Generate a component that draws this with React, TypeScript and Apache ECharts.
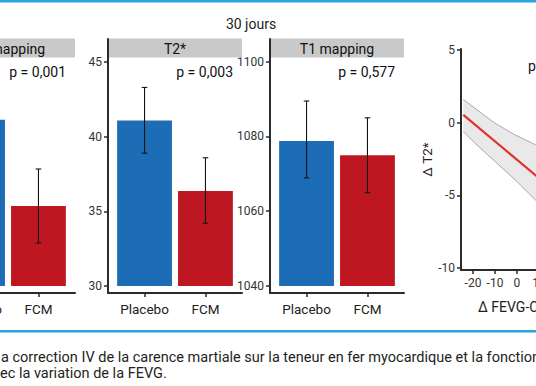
import React, { useEffect, useRef } from "react";
import * as echarts from "echarts";

// ---------- data ----------
const CATEGORIES = ["Placebo", "FCM"];
const GROUP_TITLE = "30 jours";
const PANEL_TITLES = ["T1 mapping", "T2*", "T1 mapping"];
const P_VALUES = ["p = 0,001", "p = 0,003", "p = 0,577"];

const PANEL1_MEAN = [1084.5, 1061.4];
const PANEL1_LOW = [1077.0, 1051.5];
const PANEL1_HIGH = [1092.0, 1071.3];

const PANEL2_MEAN = [41.07, 36.35];
const PANEL2_LOW = [38.89, 34.2];
const PANEL2_HIGH = [43.29, 38.58];

const PANEL3_MEAN = [1078.8, 1074.97];
const PANEL3_LOW = [1068.9, 1064.95];
const PANEL3_HIGH = [1089.5, 1085.0];

const PANEL1_TICKS = [1040, 1060, 1080, 1100];
const PANEL2_TICKS = [30, 35, 40, 45];
const PANEL3_TICKS = [1040, 1060, 1080, 1100];

const BAR_BASE = [1040, 30, 1040];
const Y_MIN = [1038.1, 29.53, 1038.1];
const Y_MAX = [1106.1, 46.53, 1106.1];

const SCATTER_X_TICKS = [-20, -10, 0, 10, 20, 30, 40];
const SCATTER_Y_TICKS = [-10, -5, 0, 5];
const FIT_X = [-24.4, 15];
const FIT_Y = [0.53, -4.45];
const BAND_X = [-24.4, -19.1, -10.0, -0.9, 8.6, 15];
const BAND_UPPER = [1.6, 0.99, -0.04, -0.84, -1.53, -2.0];
const BAND_LOWER = [-0.62, -1.41, -2.67, -3.92, -5.35, -6.2];

const SCATTER_Y_NAME = "Δ T2*";
const SCATTER_X_NAME = "Δ FEVG-CMR";
const SCATTER_P = "p";

const CAPTION_1 = "a correction IV de la carence martiale sur la teneur en fer myocardique et la fonction";
const CAPTION_2 = "ec la variation de la FEVG.";

// ---------- layout / style ----------
const OFF = 100;
const PANEL_LEFT = [41, 208, 370];
const PANEL_W = 134;
const GRID_TOP = 39;
const GRID_BOTTOM = 293;
const BLUE = "#1d6cb6";
const RED = "#bf1722";
const AXIS = "#2b2b2b";
const TICK_FONT = "Roboto, sans-serif";
const TEXT_FONT = "Roboto, 'Noto Sans', sans-serif";

const MEANS = [PANEL1_MEAN, PANEL2_MEAN, PANEL3_MEAN];
const LOWS = [PANEL1_LOW, PANEL2_LOW, PANEL3_LOW];
const HIGHS = [PANEL1_HIGH, PANEL2_HIGH, PANEL3_HIGH];
const TICKS = [PANEL1_TICKS, PANEL2_TICKS, PANEL3_TICKS];

function buildOption(): any {
  const grid: any[] = [];
  const xAxis: any[] = [];
  const yAxis: any[] = [];
  const series: any[] = [];
  const graphic: any[] = [];

  const axisLine = { show: true, onZero: false, lineStyle: { color: AXIS, width: 2 } };
  const tickLabel = { margin: 6, fontSize: 12, color: "#333", fontFamily: TICK_FONT, formatter: (v: number) => String(v) };

  for (let i = 0; i < 3; i++) {
    grid.push({
      left: PANEL_LEFT[i],
      top: GRID_TOP,
      width: PANEL_W,
      height: GRID_BOTTOM - GRID_TOP,
      containLabel: false,
      outerBoundsMode: "none",
    });
    xAxis.push({
      type: "value",
      gridIndex: i,
      min: 0.4,
      max: 2.6,
      axisLine,
      axisTick: { show: true, length: 4, customValues: [1, 2], lineStyle: { color: AXIS, width: 1.5 } },
      axisLabel: {
        customValues: [1, 2],
        formatter: (v: number) => CATEGORIES[Math.round(v) - 1] ?? "",
        margin: 9,
        fontSize: 13.5,
        color: "#222",
        fontFamily: TEXT_FONT,
      },
      splitLine: { show: false },
    });
    yAxis.push({
      type: "value",
      gridIndex: i,
      min: Y_MIN[i],
      max: Y_MAX[i],
      axisLine,
      axisTick: { show: true, length: 4, customValues: TICKS[i], lineStyle: { color: AXIS, width: 1.5 } },
      axisLabel: { ...tickLabel, customValues: TICKS[i] },
      splitLine: { show: false },
    });
    // bars (from the panel's base value up to the mean)
    series.push({
      type: "custom",
      xAxisIndex: i,
      yAxisIndex: i,
      z: 2,
      silent: true,
      encode: { x: 0, y: [1, 2] },
      data: CATEGORIES.map((_, k) => [k + 1, BAR_BASE[i], MEANS[i][k]]),
      renderItem: (params: any, api: any) => {
        const x = api.value(0);
        const w = api.size([0.9, 0])[0];
        const top = api.coord([x, api.value(2)]);
        const bot = api.coord([x, api.value(1)]);
        return {
          type: "rect",
          shape: { x: top[0] - w / 2, y: top[1], width: w, height: bot[1] - top[1] },
          style: { fill: params.dataIndex === 0 ? BLUE : RED },
        };
      },
    });
    // error bars
    series.push({
      type: "custom",
      xAxisIndex: i,
      yAxisIndex: i,
      z: 5,
      silent: true,
      encode: { x: 0, y: [1, 2] },
      data: CATEGORIES.map((_, k) => [k + 1, LOWS[i][k], HIGHS[i][k]]),
      renderItem: (params: any, api: any) => {
        const x = api.value(0);
        const lo = api.coord([x, api.value(1)]);
        const hi = api.coord([x, api.value(2)]);
        const cap = 2.8;
        const style = { stroke: "#151515", lineWidth: 1.1 };
        return {
          type: "group",
          children: [
            { type: "line", shape: { x1: lo[0], y1: lo[1], x2: hi[0], y2: hi[1] }, style },
            { type: "line", shape: { x1: lo[0] - cap, y1: lo[1], x2: lo[0] + cap, y2: lo[1] }, style },
            { type: "line", shape: { x1: hi[0] - cap, y1: hi[1], x2: hi[0] + cap, y2: hi[1] }, style },
          ],
        };
      },
    });

    // strip
    graphic.push({
      type: "rect",
      shape: { x: PANEL_LEFT[i] + 1, y: 38.5, width: PANEL_W - 1, height: 19 },
      style: { fill: "#c9c9c9" },
      z: 10,
    });
    graphic.push({
      type: "text",
      x: PANEL_LEFT[i] + PANEL_W / 2,
      y: 48.5,
      style: {
        text: PANEL_TITLES[i],
        fill: "#111",
        font: `14px ${TEXT_FONT}`,
        textAlign: "center",
        textVerticalAlign: "middle",
      },
      z: 11,
    });
    graphic.push({
      type: "text",
      x: PANEL_LEFT[i] + PANEL_W - 9,
      y: 72,
      style: {
        text: P_VALUES[i],
        fill: "#111",
        font: `14px ${TEXT_FONT}`,
        textAlign: "right",
        textVerticalAlign: "middle",
      },
      z: 11,
    });
  }

  // scatter / regression panel
  const SC_LEFT = 561;
  const SC_TOP = 49;
  const SC_BOTTOM = 270;
  grid.push({
    left: SC_LEFT,
    top: SC_TOP,
    width: 144,
    height: SC_BOTTOM - SC_TOP,
    containLabel: false,
    outerBoundsMode: "none",
  });
  xAxis.push({
    type: "value",
    gridIndex: 3,
    min: -25.45,
    max: 40,
    axisLine,
    axisTick: { show: true, length: 4, customValues: SCATTER_X_TICKS, lineStyle: { color: AXIS, width: 1.5 } },
    axisLabel: { ...tickLabel, customValues: SCATTER_X_TICKS, margin: 7 },
    splitLine: { show: false },
  });
  yAxis.push({
    type: "value",
    gridIndex: 3,
    min: -10.14,
    max: 5.07,
    axisLine,
    axisTick: { show: true, length: 4, customValues: SCATTER_Y_TICKS, lineStyle: { color: AXIS, width: 1.5 } },
    axisLabel: { ...tickLabel, customValues: SCATTER_Y_TICKS },
    splitLine: { show: false },
    name: SCATTER_Y_NAME,
    nameLocation: "middle",
    nameRotate: 90,
    nameGap: 23,
    nameTextStyle: { fontSize: 13.5, color: "#222", fontFamily: TEXT_FONT },
  });
  series.push({
    type: "custom",
    xAxisIndex: 3,
    yAxisIndex: 3,
    silent: true,
    z: 2,
    data: [[0]],
    renderItem: (params: any, api: any) => {
      const up = BAND_X.map((x, k) => api.coord([x, BAND_UPPER[k]]));
      const lo = BAND_X.map((x, k) => api.coord([x, BAND_LOWER[k]]));
      const poly = up.concat(lo.slice().reverse());
      return {
        type: "group",
        children: [
          { type: "polygon", shape: { points: poly }, style: { fill: "#e9e9e9", stroke: "none" } },
          { type: "polyline", shape: { points: up }, style: { stroke: "#a9a9a9", lineWidth: 1, fill: "none" } },
          { type: "polyline", shape: { points: lo }, style: { stroke: "#a9a9a9", lineWidth: 1, fill: "none" } },
        ],
      };
    },
  });
  series.push({
    type: "line",
    xAxisIndex: 3,
    yAxisIndex: 3,
    z: 4,
    silent: true,
    symbol: "none",
    lineStyle: { color: "#e0342b", width: 2.2 },
    data: FIT_X.map((x, k) => [x, FIT_Y[k]]),
  });

  graphic.push({
    type: "text",
    x: OFF + 478,
    y: 307,
    style: { text: SCATTER_X_NAME, fill: "#222", font: `14px ${TEXT_FONT}`, textVerticalAlign: "middle" },
  });
  graphic.push({
    type: "text",
    x: OFF + 528,
    y: 66,
    style: { text: SCATTER_P, fill: "#111", font: `14px ${TEXT_FONT}`, textVerticalAlign: "middle" },
  });

  // group title
  graphic.push({
    type: "text",
    x: OFF + 251,
    y: 24,
    style: {
      text: GROUP_TITLE,
      fill: "#222",
      font: `14px ${TEXT_FONT}`,
      textAlign: "center",
      textVerticalAlign: "middle",
    },
  });

  // frame lines
  graphic.push({ type: "rect", shape: { x: OFF, y: 0, width: 536, height: 2.5 }, style: { fill: "#2aa2dc" } });
  graphic.push({ type: "rect", shape: { x: OFF, y: 330, width: 536, height: 2.5 }, style: { fill: "#2aa2dc" } });

  // caption
  graphic.push({
    type: "text",
    x: OFF + 1,
    y: 357,
    style: { text: CAPTION_1, fill: "#231f20", font: `14.5px ${TEXT_FONT}`, textVerticalAlign: "middle" },
  });
  graphic.push({
    type: "text",
    x: OFF,
    y: 373,
    style: { text: CAPTION_2, fill: "#231f20", font: `14.5px ${TEXT_FONT}`, textVerticalAlign: "middle" },
  });

  return {
    animation: false,
    backgroundColor: "#ffffff",
    grid,
    xAxis,
    yAxis,
    series,
    graphic,
  };
}

export default function App() {
  const ref = useRef<HTMLDivElement>(null);
  useEffect(() => {
    if (!ref.current) return;
    const chart = echarts.init(ref.current, null, { renderer: "svg" });
    chart.setOption(buildOption());
    return () => chart.dispose();
  }, []);
  return (
    <div
      style={{
        position: "fixed",
        left: 0,
        top: 0,
        width: 536,
        height: 386,
        overflow: "hidden",
        background: "#fff",
      }}
    >
      <div ref={ref} style={{ position: "absolute", left: -OFF, top: 0, width: 536 + OFF + 150, height: 386 }} />
    </div>
  );
}
